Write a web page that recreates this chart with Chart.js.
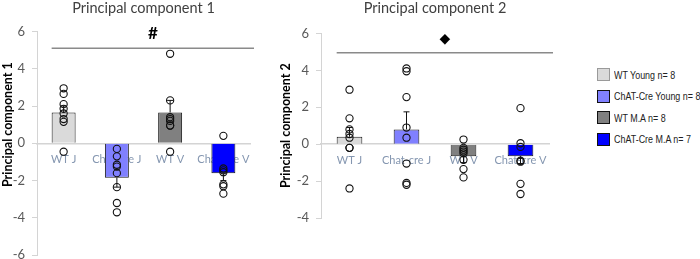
<!DOCTYPE html>
<html>
<head>
<meta charset="utf-8">
<script src="https://cdn.jsdelivr.net/npm/chart.js@4.4.0/dist/chart.umd.min.js"></script>
<style>
  body { margin: 0; background: #fff; width: 700px; height: 259px; overflow: hidden; position: relative; }
  #chart1Box { position: absolute; left: 0; top: 0; width: 262px; height: 270px; }
  #chart2Box { position: absolute; left: 268px; top: 0; width: 290px; height: 259px; }
  #legend { position: absolute; left: 597px; top: 64px; width: 110px; font-family: "Liberation Sans", Arial, sans-serif; font-size: 10.5px; color: #222; }
  .row { display: flex; align-items: center; height: 21.5px; white-space: nowrap; }
  .sw { width: 11px; height: 11px; border: 1.5px solid #111; margin-right: 4px; flex: none; }
  .lbl { display: inline-block; transform: scaleX(0.85); transform-origin: left center; }
</style>
</head>
<body>
<div id="chart1Box"><canvas id="chart1"></canvas></div>
<div id="chart2Box"><canvas id="chart2"></canvas></div>
<div id="legend"></div>
<script>
// categories and groups
const categories = ['WT J', 'Chat-cre J', 'WT V', 'Chat-cre V'];
const groupNames = ['WT Young n= 8', 'ChAT-Cre Young n= 8', 'WT M.A n= 8', 'ChAT-Cre M.A n= 7'];
const groupColors = ['#dadada', '#8080ff', '#808080', '#0000ff'];
const swatchBorders = ['#9a9a9a', '#111', '#111', '#111'];

// Principal component 1
const pc1Means = [1.65, -1.85, 1.65, -1.6];
const pc1Errors = [0.35, 0.5, 0.65, 0.4];
const pc1Points = [
    [2.95, 2.65, 2.1, 1.85, 1.6, 1.3, 1.15, -0.45],
    [-0.3, -0.7, -1.15, -1.25, -1.6, -2.35, -3.2, -3.7],
    [4.8, 2.3, 1.4, 1.3, 1.2, 0.95, 0.95, -0.45],
    [0.4, -1.35, -1.45, -1.55, -2.2, -2.3, -2.7]
];
const pc1Range = [-6, 6];
const pc1Sig = { mark: '#', markY: 5.9, lineY: 5.1 };

// Principal component 2
const pc2Means = [0.4, 0.8, -0.65, -0.65];
const pc2Errors = [0.5, 0.95, 0.35, 0.4];
const pc2Points = [
    [2.95, 1.4, 0.8, 0.55, 0.35, -0.2, -0.2, -2.4],
    [4.1, 3.95, 2.55, 0.9, 0.35, -1.05, -2.1, -2.2],
    [0.25, -0.2, -0.3, -0.4, -0.5, -0.85, -1.35, -1.8],
    [1.95, 0.05, -0.15, -0.9, -0.95, -2.15, -2.7]
];
const pc2Range = [-4, 6];
const pc2Sig = { mark: '\u25C6', markY: 5.7, lineY: 4.95 };

const tickStep = 2;
const axisTitleCenter = 1; // y value the vertical axis title is centred on

// error bars, significance line and the vertical axis title
const extrasPlugin = {
    id: 'extras',
    afterDatasetsDraw(chart, args, opts) {
        const ctx = chart.ctx;
        const yScale = chart.scales.y;
        const bars = chart.getDatasetMeta(0).data;
        ctx.save();
        ctx.strokeStyle = '#111';
        ctx.lineWidth = 1;
        bars.forEach((bar, i) => {
            const m = opts.means[i];
            const end = m >= 0 ? m + opts.errors[i] : m - opts.errors[i];
            const y0 = yScale.getPixelForValue(m);
            const y1 = yScale.getPixelForValue(end);
            ctx.beginPath();
            ctx.moveTo(bar.x, y0);
            ctx.lineTo(bar.x, y1);
            ctx.moveTo(bar.x - 3, y1);
            ctx.lineTo(bar.x + 3, y1);
            ctx.stroke();
        });
        // significance line
        const first = bars[0];
        const xs = first.x - first.width / 2;
        const xe = chart.chartArea.right + 4;
        const ly = yScale.getPixelForValue(opts.sig.lineY);
        ctx.strokeStyle = '#8a8a8a';
        ctx.lineWidth = 1.5;
        ctx.beginPath();
        ctx.moveTo(xs, ly);
        ctx.lineTo(xe, ly);
        ctx.stroke();
        ctx.fillStyle = '#000';
        ctx.font = opts.sig.font;
        ctx.textAlign = 'center';
        ctx.textBaseline = 'middle';
        ctx.fillText(opts.sig.mark, (xs + xe) / 2, yScale.getPixelForValue(opts.sig.markY));

        // axis title
        ctx.translate(yScale.left + 8, yScale.getPixelForValue(axisTitleCenter));
        ctx.rotate(-Math.PI / 2);
        ctx.font = 'bold 12.5px Lato';
        ctx.fillText(opts.axisTitle, 0, 0);
        ctx.restore();
    }
};

function makeChart(id, title, means, errors, points, range, sig, pad, axisWidth, titleGap, sigFont) {
    const scatterData = [];
    points.forEach((list, i) => list.forEach(v => scatterData.push({ x: categories[i], y: v })));

    return new Chart(document.getElementById(id), {
        type: 'bar',
        data: {
            labels: categories,
            datasets: [{
                data: means,
                backgroundColor: groupColors,
                borderColor: '#1a1a1a',
                borderWidth: 1,
                barPercentage: 0.45,
                categoryPercentage: 1,
                order: 2
            }, {
                type: 'scatter',
                data: scatterData,
                pointRadius: 3.6,
                pointBorderWidth: 1.1,
                pointBorderColor: '#111',
                pointBackgroundColor: 'rgba(255,255,255,0)',
                order: 1
            }]
        },
        options: {
            responsive: true,
            maintainAspectRatio: false,
            animation: false,
            layout: { padding: pad },
            plugins: {
                legend: { display: false },
                tooltip: { enabled: false },
                title: {
                    display: true,
                    text: title,
                    color: '#404040',
                    fullSize: false,
                    font: { family: 'Lato', size: 14.5, weight: 'normal' },
                    padding: { top: 0, bottom: titleGap }
                },
                extras: { means: means, errors: errors, sig: { ...sig, font: sigFont }, axisTitle: title }
            },
            scales: {
                x: {
                    type: 'category',
                    position: { y: 0 },
                    offset: true,
                    z: 1,
                    grid: { display: false },
                    border: { color: '#d4d4d4', width: 1.5 },
                    ticks: { color: '#8496b0', font: { family: 'Lato', size: 11 }, padding: 2, maxRotation: 0, autoSkip: false }
                },
                y: {
                    min: range[0],
                    max: range[1],
                    afterFit: (s) => { s.width = axisWidth; },
                    grid: { drawOnChartArea: false, color: '#d4d4d4', tickLength: 5 },
                    border: { color: '#d4d4d4' },
                    ticks: { stepSize: tickStep, color: '#595959', font: { family: 'Lato', size: 13 }, padding: 7 }
                }
            }
        },
        plugins: [extrasPlugin]
    });
}

makeChart('chart1', 'Principal component 1', pc1Means, pc1Errors, pc1Points, pc1Range, pc1Sig,
    { left: 0, right: 12, top: 0, bottom: 0 }, 37, 14, 'bold 17px Lato');
makeChart('chart2', 'Principal component 2', pc2Means, pc2Errors, pc2Points, pc2Range, pc2Sig,
    { left: 10, right: 9, top: 0, bottom: 41 }, 43, 16, '14px "DejaVu Sans"');

// legend
const legend = document.getElementById('legend');
legend.innerHTML = groupNames.map((name, i) => `
    <div class="row"><div class="sw" style="background:${groupColors[i]};border-color:${swatchBorders[i]}"></div><span class="lbl">${name}</span></div>
`).join('');
</script>
</body>
</html>
